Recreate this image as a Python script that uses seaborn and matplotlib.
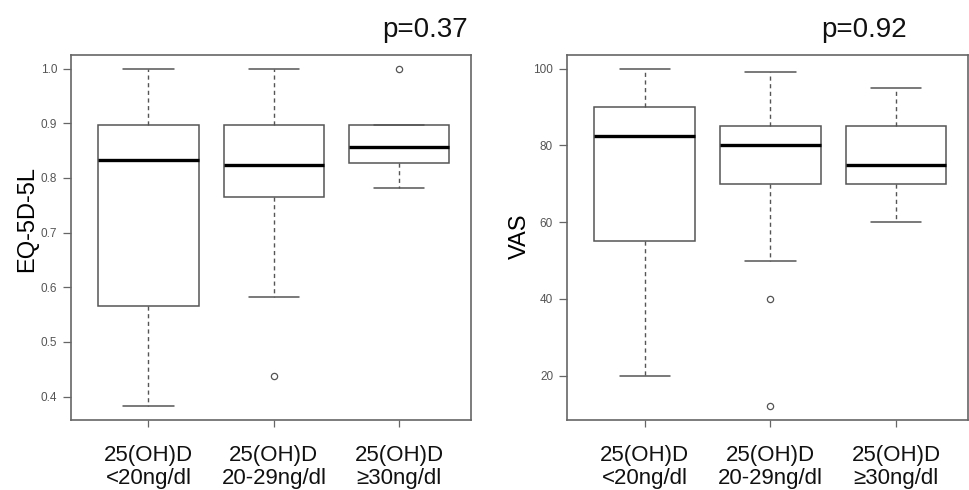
import numpy as np
import pandas as pd
import matplotlib
matplotlib.use("Agg")
import matplotlib.pyplot as plt
import seaborn as sns

# ---- data (box-plot summary per group) ----
groups = ["25(OH)D\n<20ng/dl", "25(OH)D\n20-29ng/dl", "25(OH)D\n\u226530ng/dl"]

eq_whislo = [0.382, 0.583, 0.781]
eq_q1 = [0.566, 0.766, 0.828]
eq_med = [0.832, 0.824, 0.856]
eq_q3 = [0.896, 0.896, 0.896]
eq_whishi = [1.0, 1.0, 0.896]
eq_fliers = [[], [0.437], [1.0]]
eq_ticks = [0.4, 0.5, 0.6, 0.7, 0.8, 0.9, 1.0]
eq_p = "p=0.37"

vas_whislo = [20, 50, 60]
vas_q1 = [55, 70, 70]
vas_med = [82.5, 80, 75]
vas_q3 = [90, 85, 85]
vas_whishi = [100, 99, 95]
vas_fliers = [[], [40, 12], []]
vas_ticks = [20, 40, 60, 80, 100]
vas_p = "p=0.92"


def sample(whislo, q1, med, q3, whishi, fliers, n=20):
    """Sample whose quartiles / whiskers / outliers reproduce the read summary."""
    rows = []
    for g, lo, a, m, b, hi, fl in zip(groups, whislo, q1, med, q3, whishi, fliers):
        vals = list(fl) + [lo] + [a] * n + [m] * n + [b] * n + [hi]
        rows += [(g, v) for v in vals]
    return pd.DataFrame(rows, columns=["group", "value"])


sns.set_theme(style="ticks")
plt.rcParams["font.family"] = ["Liberation Sans", "DejaVu Sans"]

GRAY = "#555555"
fig = plt.figure(figsize=(9.7, 4.9), dpi=100)
W, H = 970, 490
ax1 = fig.add_axes([71 / W, (H - 420) / H, 400 / W, 365 / H])
ax2 = fig.add_axes([567 / W, (H - 420) / H, 401 / W, 365 / H])

common = dict(
    order=groups, color="white", linecolor=GRAY, linewidth=1.1, width=0.8,
    whis=1.5, fill=True,
    medianprops=dict(color="black", linewidth=2.4),
    whiskerprops=dict(linestyle=(0, (3, 2.5)), color=GRAY, linewidth=1.0),
    capprops=dict(color=GRAY, linewidth=1.1),
    flierprops=dict(marker="o", markerfacecolor="none", markeredgecolor=GRAY,
                    markersize=4.5, markeredgewidth=0.9),
    capwidths=0.4,
)

panels = [
    (ax1, sample(eq_whislo, eq_q1, eq_med, eq_q3, eq_whishi, eq_fliers), "EQ-5D-5L",
     eq_ticks, ["%.1f" % t for t in eq_ticks], (0.357, 1.025), eq_p, 468, (-0.083, 0.55)),
    (ax2, sample(vas_whislo, vas_q1, vas_med, vas_q3, vas_whishi, vas_fliers), "VAS",
     vas_ticks, [str(t) for t in vas_ticks], (8.48, 103.52), vas_p, 907, (-0.09, 0.503)),
]

for ax, df, ylab, yt, ytl, ylim, ptxt, px, lab_xy in panels:
    sns.boxplot(data=df, x="group", y="value", ax=ax, **common)
    ax.set_xlim(-0.618, 2.572)
    ax.set_ylim(*ylim)
    ax.set_yticks(yt)
    ax.set_yticklabels(ytl)
    ax.set_xlabel("")
    ax.set_ylabel(ylab, fontsize=17, color="black")
    ax.yaxis.set_label_coords(*lab_xy)
    for s in ax.spines.values():
        s.set_visible(True)
        s.set_color("#666666")
        s.set_linewidth(1.2)
    ax.tick_params(axis="y", length=6, width=0.9, color="#666666",
                   labelsize=8.5, labelcolor=GRAY, pad=4)
    ax.tick_params(axis="x", length=5, width=0.9, color="#666666",
                   labelsize=16, labelcolor="#111111", pad=13)
    for lab in ax.get_xticklabels():
        lab.set_linespacing(1.12)
    ax.set_facecolor("white")
    fig.text(px / W, 1 - 37 / H, ptxt, ha="right", va="baseline",
             fontsize=20, color="#111111")

fig.savefig("out.png", dpi=100, facecolor="white")
